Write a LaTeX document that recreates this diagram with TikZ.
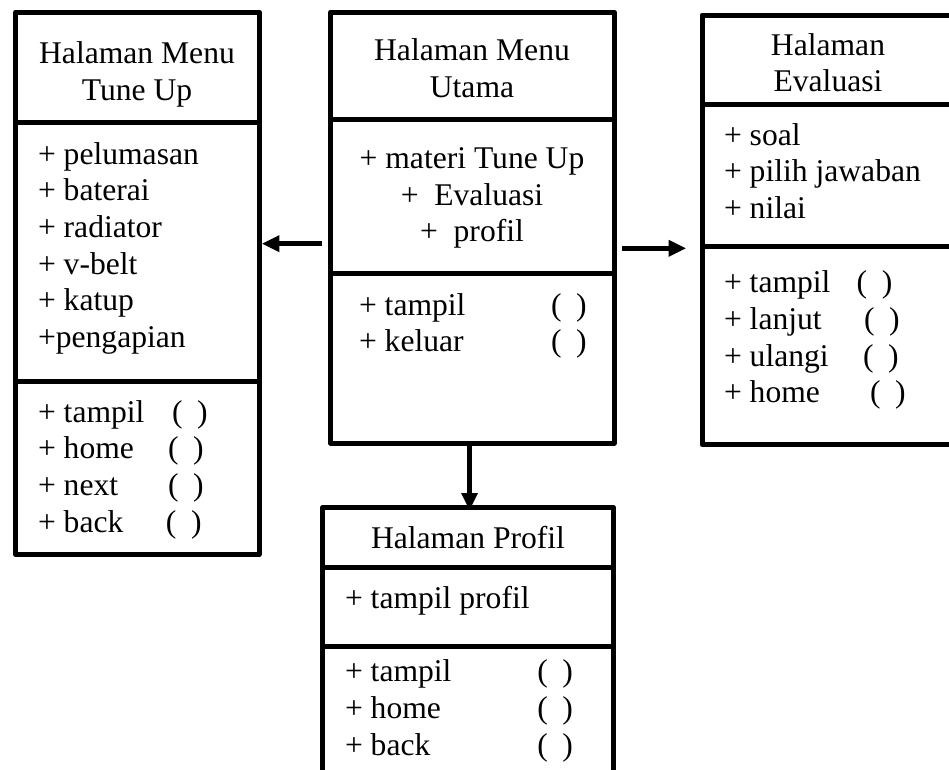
\documentclass[tikz,border=0pt]{standalone}
\usepackage{fontspec}
\setmainfont{Liberation Serif}
\usetikzlibrary{arrows.meta}
\newcommand{\emptyargs}{(\hspace{14.5pt})}
\begin{document}
\begin{tikzpicture}[x=1pt,y=-1pt,
  part/.style={draw, line width=5pt, line join=round, inner sep=0pt, outer sep=0pt},
  txt/.style={inner sep=0pt, outer sep=0pt, font=\fontsize{31.6}{36.7}\selectfont},
  arr/.style={line width=5pt, -{Triangle[length=17pt,width=17pt,line width=0pt]}}
]
\useasboundingbox (0,0) rectangle (949,769);
\clip (0,0) rectangle (949,769);

% ---- Halaman Menu Tune Up (left)
\node[part, minimum width=243.2pt, minimum height=110pt]   (tuH) at (137.4,67) {};
\node[part, minimum width=243.2pt, minimum height=259pt]   (tuA) at (137.4,251.5) {};
\node[part, minimum width=243.2pt, minimum height=173.5pt] (tuM) at (137.4,467.75) {};

% ---- Halaman Menu Utama (centre)
\node[part, minimum width=283.5pt, minimum height=107.7pt] (utH) at (472.25,65.85) {};
\node[part, minimum width=283.5pt, minimum height=154.1pt] (utA) at (472.25,196.75) {};
\node[part, minimum width=283.5pt, minimum height=169.2pt] (utM) at (472.25,358.4) {};

% ---- Halaman Evaluasi (right, cut by the page edge)
\node[part, minimum width=253pt, minimum height=89.5pt]  (evH) at (828.5,59.75) {};
\node[part, minimum width=253pt, minimum height=142pt]   (evA) at (828.5,175.5) {};
\node[part, minimum width=253pt, minimum height=198.2pt] (evM) at (828.5,345.6) {};

% ---- Halaman Profil (bottom, cut by the page edge)
\node[part, minimum width=291pt, minimum height=59.5pt]  (prH) at (468,537.25) {};
\node[part, minimum width=291pt, minimum height=79.3pt]  (prA) at (468,606.65) {};
\node[part, minimum width=291pt, minimum height=143.7pt] (prM) at (468,718.15) {};

% ---- texts
\node[txt, anchor=base] (tuT) at (137,63.3)
  {\begin{tabular}[t]{@{}c@{}}Halaman Menu\\Tune Up\end{tabular}};
\node[txt, anchor=base west] (tuL) at (38,164)
  {\begin{tabular}[t]{@{}l@{}}+ pelumasan\\+ baterai\\+ radiator\\+ v-belt\\+ katup\\+pengapian\end{tabular}};
\node[txt, anchor=base west] (tuF) at (38,422)
  {\begin{tabular}[t]{@{}l@{}}\makebox[134pt][l]{+ tampil}\emptyargs\\\makebox[130pt][l]{+ home}\emptyargs\\\makebox[130pt][l]{+ next}\emptyargs\\\makebox[128pt][l]{+ back}\emptyargs\end{tabular}};

\node[txt, anchor=base] (utT) at (472,60.7)
  {\begin{tabular}[t]{@{}c@{}}Halaman Menu\\Utama\end{tabular}};
\node[txt, anchor=base] (utL) at (472,168.3)
  {\begin{tabular}[t]{@{}c@{}}+ materi Tune Up\\+~~Evaluasi\\+~~profil\end{tabular}};
\node[txt, anchor=base west] (utF) at (359,315)
  {\begin{tabular}[t]{@{}l@{}}\makebox[192pt][l]{+ tampil}\emptyargs\\\makebox[192pt][l]{+ keluar}\emptyargs\end{tabular}};

\node[txt, anchor=base] (evT) at (828,55)
  {\begin{tabular}[t]{@{}c@{}}Halaman\\Evaluasi\end{tabular}};
\node[txt, anchor=base west] (evL) at (724,145)
  {\begin{tabular}[t]{@{}l@{}}+ soal\\+ pilih jawaban\\+ nilai\end{tabular}};
\node[txt, anchor=base west] (evF) at (724,292.7)
  {\begin{tabular}[t]{@{}l@{}}\makebox[132.7pt][l]{+ tampil}\emptyargs\\\makebox[140pt][l]{+ lanjut}\emptyargs\\\makebox[139pt][l]{+ ulangi}\emptyargs\\\makebox[146pt][l]{+ home}\emptyargs\end{tabular}};

\node[txt, anchor=base] (prT) at (468,548.3) {Halaman Profil};
\node[txt, anchor=base west] (prL) at (345,608.3) {+ tampil profil};
\node[txt, anchor=base west] (prF) at (345,681.7)
  {\begin{tabular}[t]{@{}l@{}}\makebox[192.3pt][l]{+ tampil}\emptyargs\\\makebox[192.3pt][l]{+ home}\emptyargs\\\makebox[192.3pt][l]{+ back}\emptyargs\end{tabular}};

% ---- connectors
\coordinate (la) at (0,243.7);
\coordinate (ra) at (0,248.3);
\coordinate (da) at (469.5,0);
\draw[arr, shorten <=8.8pt, shorten >=3.3pt] (utA.west |- la) -- (tuA.east |- la);
\draw[arr, shorten <=8pt, shorten >=16.3pt] (utA.east |- ra) -- (evA.west |- ra);
\draw[arr, shorten >=-2.5pt] (utM.south -| da) -- (prH.north -| da);
\end{tikzpicture}
\end{document}
